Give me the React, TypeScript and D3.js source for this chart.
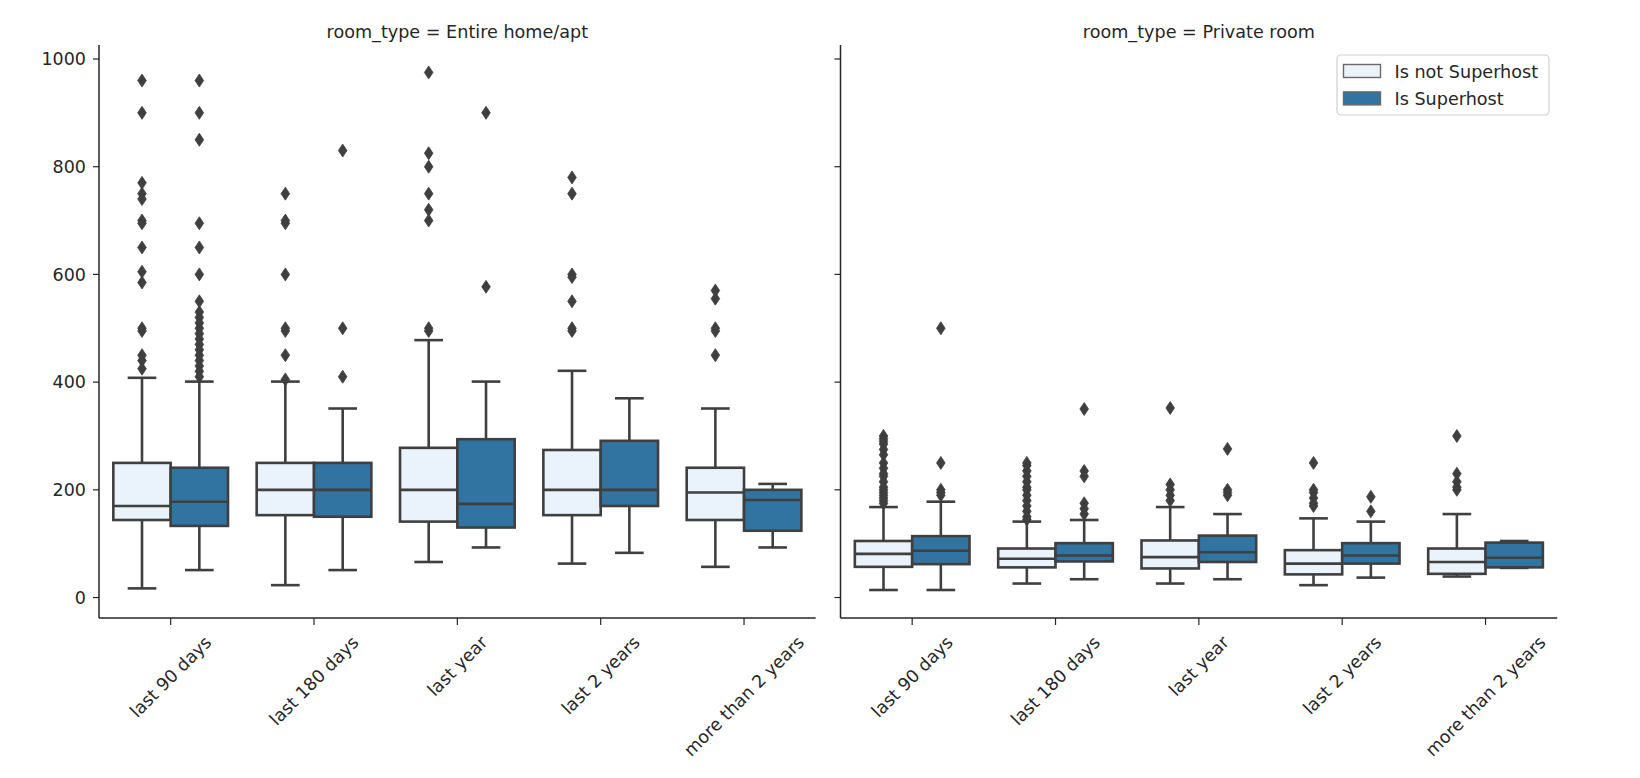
import * as React from "react";
import { scaleBand, scaleLinear } from "d3";

const categories = ["last 90 days", "last 180 days", "last year", "last 2 years", "more than 2 years"];
const hues = ["Is not Superhost", "Is Superhost"];
const hueColors = ["#eaf2fb", "#3274a1"];
const yTicks = [0, 200, 400, 600, 800, 1000];

// [lower whisker, q1, median, q3, upper whisker]
const entireNotSuper = [
  [17, 144, 170, 250, 408],
  [23, 153, 200, 250, 401],
  [66, 141, 200, 278, 478],
  [63, 153, 200, 274, 421],
  [57, 144, 195, 241, 351],
];
const entireSuper = [
  [51, 133, 178, 241, 401],
  [51, 150, 200, 250, 351],
  [93, 130, 174, 294, 401],
  [83, 170, 200, 291, 370],
  [93, 124, 181, 200, 211],
];
const privateNotSuper = [
  [14, 57, 81, 105, 168],
  [26, 56, 72, 91, 141],
  [26, 54, 75, 106, 168],
  [23, 43, 63, 88, 147],
  [39, 44, 66, 91, 155],
];
const privateSuper = [
  [14, 62, 87, 114, 178],
  [34, 67, 78, 101, 144],
  [34, 66, 84, 115, 155],
  [37, 63, 78, 101, 141],
  [55, 56, 74, 102, 105],
];

const entireNotOut = [
  [960, 900, 770, 750, 740, 700, 695, 650, 605, 585, 500, 495, 450, 440, 425],
  [750, 700, 695, 600, 500, 495, 450, 405],
  [975, 825, 800, 750, 720, 700, 500, 495],
  [780, 750, 600, 595, 550, 500, 495],
  [570, 555, 500, 495, 450],
];
const entireSuperOut = [
  [960, 900, 850, 695, 650, 600, 550, 530, 520, 510, 500, 490, 480, 470, 460, 450, 440, 430, 420, 410],
  [830, 500, 410],
  [900, 577],
  [],
  [],
];
const privateNotOut = [
  [300, 295, 290, 285, 275, 265, 250, 240, 230, 225, 215, 205, 200, 195, 190, 185, 180, 175],
  [250, 245, 235, 225, 215, 205, 200, 190, 180, 170, 160, 150, 145],
  [352, 210, 200, 190, 180],
  [250, 200, 195, 185, 175, 170],
  [300, 230, 215, 205, 200],
];
const privateSuperOut = [
  [500, 250, 200, 195, 190],
  [350, 235, 225, 175, 165, 155],
  [276, 200, 195, 190],
  [187, 160],
  [],
];

const panels = [
  { title: "room_type = Entire home/apt", stats: [entireNotSuper, entireSuper], out: [entireNotOut, entireSuperOut], x0: 99, labels: true },
  { title: "room_type = Private room", stats: [privateNotSuper, privateSuper], out: [privateNotOut, privateSuperOut], x0: 840.5, labels: false },
];

const FONT = "DejaVu Sans";
const INK = "#262626";
const GRAY = "#3f3f3f";
const panelW = 716.7;
const top = 45;
const bottom = 618;

const y = scaleLinear().domain([-38, 1026]).range([bottom, top]);

let ctx: CanvasRenderingContext2D | null = null;
const measure = (s: string, size: number) => {
  if (!ctx) ctx = document.createElement("canvas").getContext("2d");
  if (!ctx) return s.length * size * 0.55;
  ctx.font = `${size}px "${FONT}"`;
  return ctx.measureText(s).width;
};

const Panel = ({ p }: { p: typeof panels[0] }) => {
  const x = scaleBand().domain(categories).range([p.x0, p.x0 + panelW]);
  const bw = x.bandwidth();
  const hx = scaleBand().domain(hues).range([0.1 * bw, 0.9 * bw]);
  const boxW = hx.bandwidth();
  const labelSize = 17.5;
  const labelTop = 632;

  return (
    <g>
      <text x={p.x0 + panelW / 2} y={38} textAnchor="middle" fontSize={17.6} fill={INK} fontFamily={FONT}>
        {p.title}
      </text>
      {categories.map((c, i) =>
        hues.map((h, k) => {
          const [lo, q1, med, q3, hi] = p.stats[k][i];
          const left = (x(c) as number) + (hx(h) as number);
          const cx = left + boxW / 2;
          const capW = boxW * 0.5;
          return (
            <g key={`${c}-${h}`} stroke={GRAY} strokeWidth={2.6}>
              <line x1={cx} x2={cx} y1={y(q3)} y2={y(hi)} />
              <line x1={cx} x2={cx} y1={y(q1)} y2={y(lo)} />
              <line x1={cx - capW / 2} x2={cx + capW / 2} y1={y(hi)} y2={y(hi)} />
              <line x1={cx - capW / 2} x2={cx + capW / 2} y1={y(lo)} y2={y(lo)} />
              <rect x={left} y={y(q3)} width={boxW} height={y(q1) - y(q3)} fill={hueColors[k]} />
              <line x1={left} x2={left + boxW} y1={y(med)} y2={y(med)} />
              {p.out[k][i].map((v, j) => (
                <path
                  key={j}
                  d="M0,-6.5L4.3,0L0,6.5L-4.3,0Z"
                  transform={`translate(${cx},${y(v)})`}
                  fill={GRAY}
                  strokeWidth={0.8}
                />
              ))}
            </g>
          );
        })
      )}
      {/* spines */}
      <line x1={p.x0} x2={p.x0} y1={top} y2={bottom} stroke={INK} strokeWidth={1.5} />
      <line x1={p.x0} x2={p.x0 + panelW} y1={bottom} y2={bottom} stroke={INK} strokeWidth={1.5} />
      {yTicks.map((t) => (
        <g key={t}>
          <line x1={p.x0 - 6} x2={p.x0} y1={y(t)} y2={y(t)} stroke={INK} strokeWidth={1.2} />
          {p.labels && (
            <text x={p.x0 - 13} y={y(t)} dy="0.35em" textAnchor="end" fontSize={17.5} fill={INK} fontFamily={FONT}>
              {t}
            </text>
          )}
        </g>
      ))}
      {categories.map((c) => {
        const tx = (x(c) as number) + bw / 2;
        const L = measure(c, labelSize);
        const H = labelSize * 1.17;
        const half = (L + H) / (2 * Math.SQRT2);
        return (
          <g key={c}>
            <line x1={tx} x2={tx} y1={bottom} y2={bottom + 7} stroke={INK} strokeWidth={1.2} />
            <text
              transform={`translate(${tx},${labelTop + half}) rotate(-45)`}
              textAnchor="middle"
              dominantBaseline="central"
              fontSize={labelSize}
              fill={INK}
              fontFamily={FONT}
            >
              {c}
            </text>
          </g>
        );
      })}
    </g>
  );
};

const Legend = () => (
  <g fontFamily={FONT}>
    <rect x={1337} y={55} width={212} height={60} rx={4} fill="white" stroke="#d0d0d0" strokeWidth={1.2} />
    {hues.map((h, i) => (
      <g key={h} transform={`translate(0,${i * 27.4})`}>
        <rect x={1343.5} y={64.5} width={37} height={13} fill={hueColors[i]} stroke="#6a6a6a" strokeWidth={1.4} />
        <text x={1394.5} y={77.5} fontSize={17.6} fill={INK}>
          {h}
        </text>
      </g>
    ))}
  </g>
);

export default function App() {
  return (
    <svg width={1640} height={778} style={{ position: "absolute", left: 0, top: 0, background: "white" }}>
      {panels.map((p) => (
        <Panel key={p.title} p={p} />
      ))}
      <Legend />
    </svg>
  );
}
